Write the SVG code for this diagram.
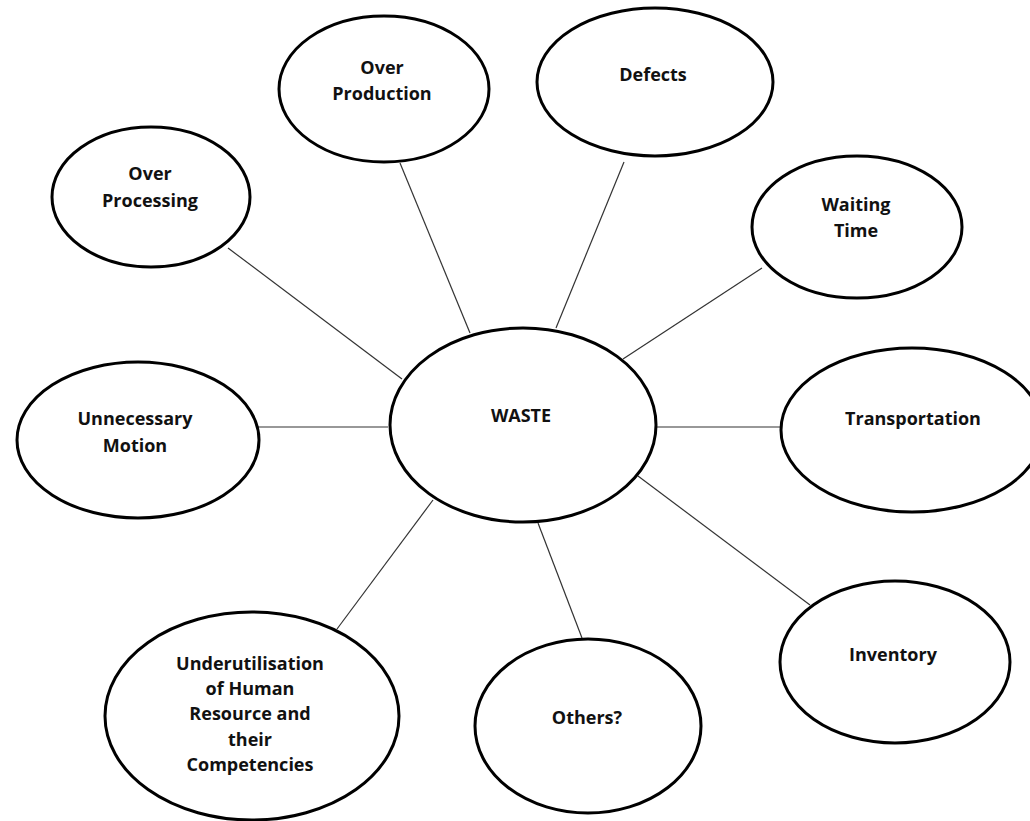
<svg xmlns="http://www.w3.org/2000/svg" width="1030" height="821" viewBox="0 0 1030 821">
<style>
.node ellipse{fill:#fff;stroke:#000;stroke-width:3}
.node text{font-family:"Open Sans","Liberation Sans",sans-serif;font-weight:bold;font-size:18px;fill:#111;text-anchor:middle}
#connectors line{stroke:#333;stroke-width:1.2}
</style>
<rect width="1030" height="821" fill="#fff"/>
<g id="connectors">
<line x1="228" y1="248" x2="402" y2="379"/>
<line x1="400" y1="163" x2="470" y2="333"/>
<line x1="624" y1="162" x2="556" y2="328"/>
<line x1="762" y1="268" x2="623" y2="359"/>
<line x1="258" y1="427" x2="388" y2="427"/>
<line x1="654" y1="427" x2="780" y2="427"/>
<line x1="638" y1="476" x2="810" y2="605"/>
<line x1="538" y1="523" x2="582" y2="638"/>
<line x1="433" y1="500" x2="337" y2="629"/>
</g>
<g id="waste" class="node"><ellipse cx="523" cy="425" rx="133" ry="97"/><text x="521" y="422">WASTE</text></g>
<g id="over-production" class="node"><ellipse cx="384" cy="89" rx="105" ry="73"/><text x="382" y="74">Over</text><text x="382" y="100">Production</text></g>
<g id="defects" class="node"><ellipse cx="655" cy="82" rx="118" ry="74"/><text x="653" y="81">Defects</text></g>
<g id="over-processing" class="node"><ellipse cx="151" cy="197" rx="99" ry="70"/><text x="150" y="180">Over</text><text x="150" y="207">Processing</text></g>
<g id="waiting-time" class="node"><ellipse cx="857" cy="227" rx="105" ry="71"/><text x="856" y="211">Waiting</text><text x="856" y="237">Time</text></g>
<g id="unnecessary-motion" class="node"><ellipse cx="138" cy="440" rx="121" ry="78"/><text x="135" y="425">Unnecessary</text><text x="135" y="452">Motion</text></g>
<g id="transportation" class="node"><ellipse cx="912" cy="430" rx="131" ry="82"/><text x="913" y="425">Transportation</text></g>
<g id="inventory" class="node"><ellipse cx="895" cy="662" rx="115" ry="81"/><text x="893" y="661">Inventory</text></g>
<g id="others" class="node"><ellipse cx="588" cy="726" rx="113" ry="87"/><text x="587" y="724">Others?</text></g>
<g id="underutilisation" class="node"><ellipse cx="252" cy="716" rx="147" ry="104"/><text x="250" y="670">Underutilisation</text><text x="250" y="695">of Human</text><text x="250" y="720">Resource and</text><text x="250" y="746">their</text><text x="250" y="771">Competencies</text></g>
</svg>
